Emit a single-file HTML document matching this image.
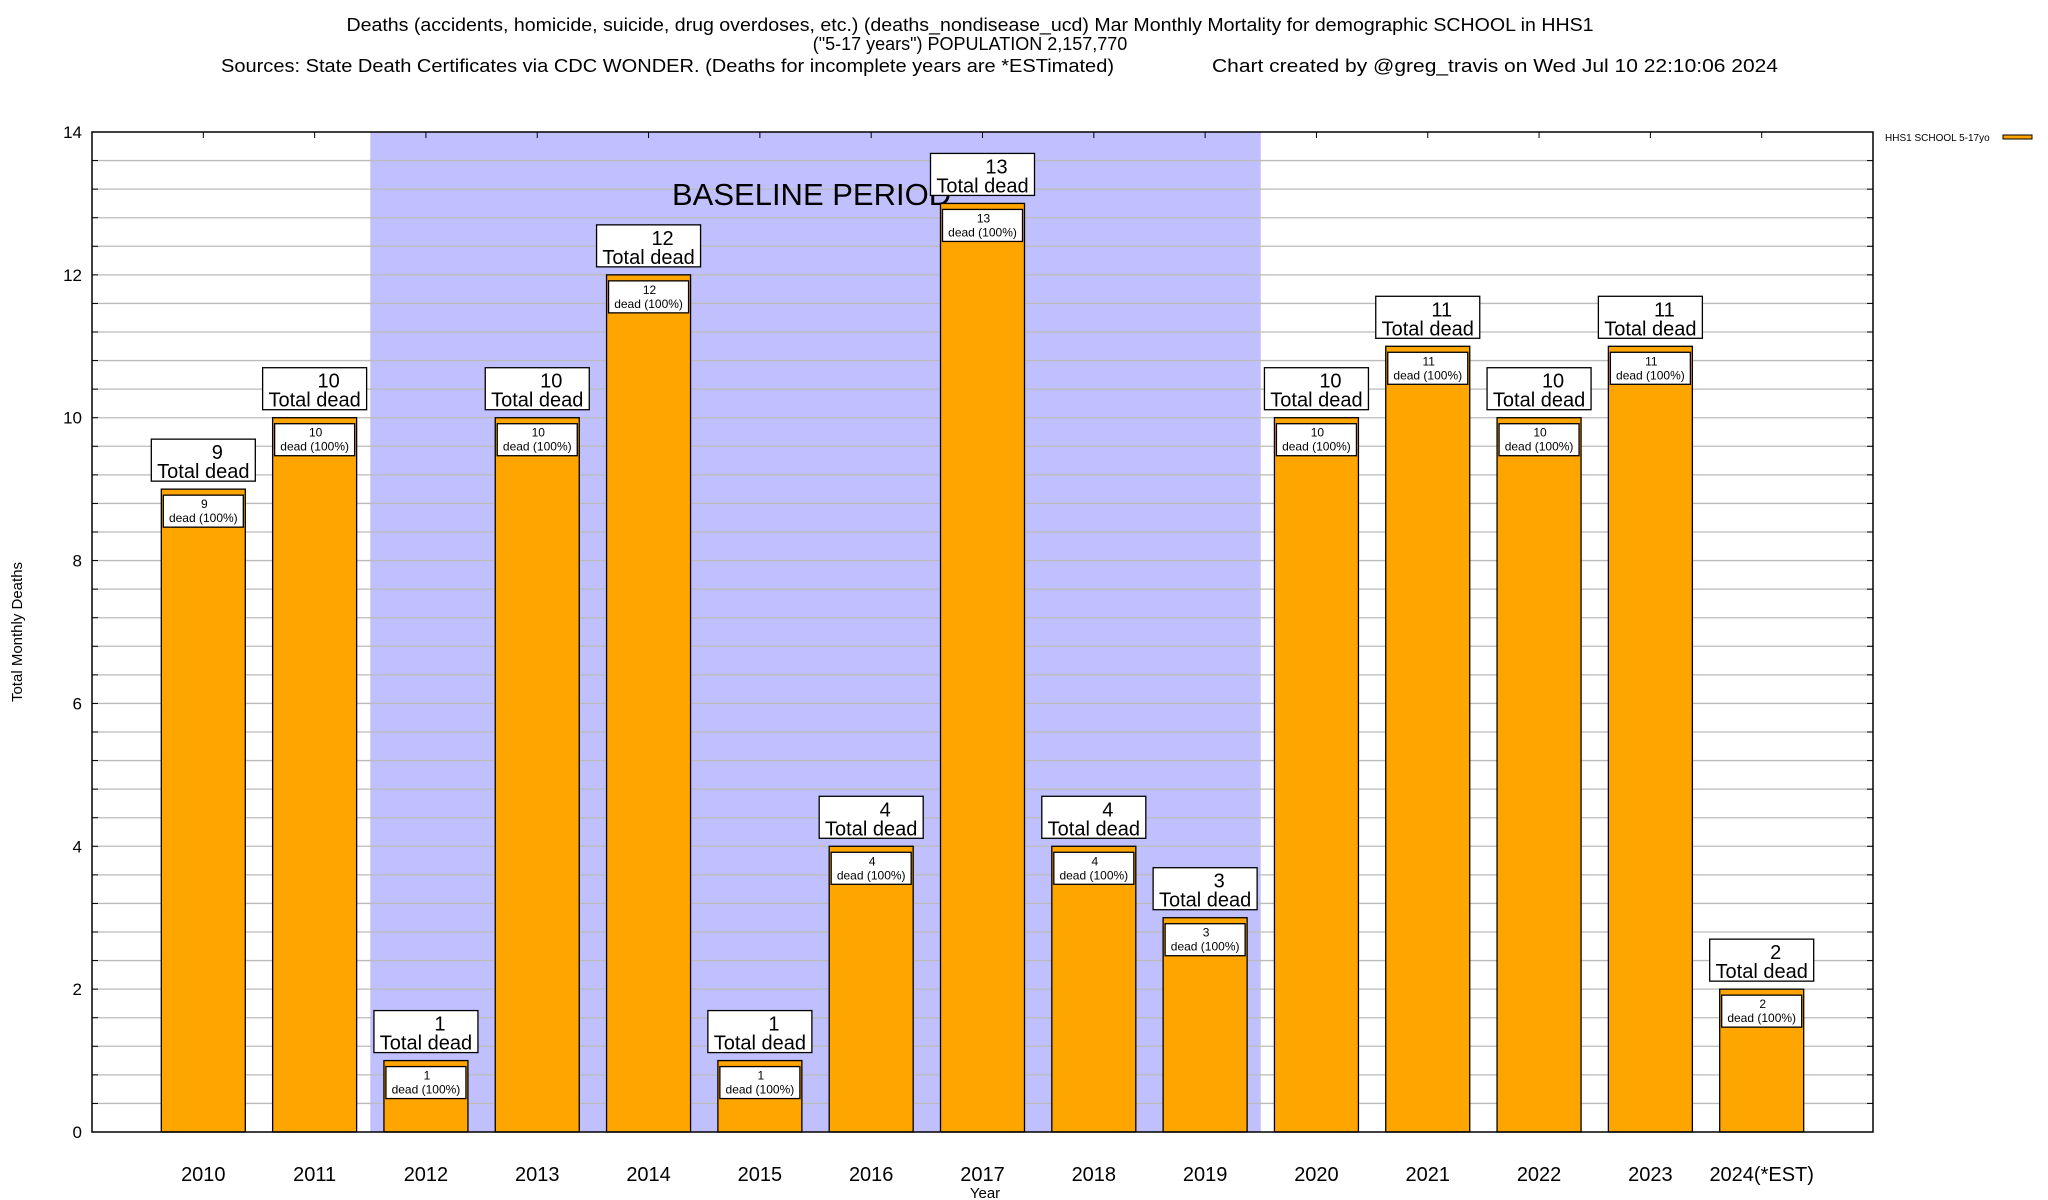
<!DOCTYPE html>
<html><head><meta charset="utf-8">
<style>
html,body{margin:0;padding:0;background:#fff;}
svg{display:block;font-family:"Liberation Sans",Arial,sans-serif;}
</style></head>
<body>
<svg id="chart" width="2048" height="1200" viewBox="0 0 2048 1200" xmlns="http://www.w3.org/2000/svg">
<text x="970" y="31" font-size="18" text-anchor="middle" textLength="1247" lengthAdjust="spacingAndGlyphs">Deaths (accidents, homicide, suicide, drug overdoses, etc.) (deaths_nondisease_ucd) Mar Monthly Mortality for demographic SCHOOL in HHS1</text>
<text x="970" y="50" font-size="18" text-anchor="middle">("5-17 years") POPULATION 2,157,770</text>
<text x="221" y="72" font-size="18" textLength="893" lengthAdjust="spacingAndGlyphs">Sources: State Death Certificates via CDC WONDER. (Deaths for incomplete years are *ESTimated)</text>
<text x="1212" y="72" font-size="18" textLength="566" lengthAdjust="spacingAndGlyphs">Chart created by @greg_travis on Wed Jul 10 22:10:06 2024</text>
<g id="plot"></g>
</svg>
<script>
const categories = ["2010","2011","2012","2013","2014","2015","2016","2017","2018","2019","2020","2021","2022","2023","2024(*EST)"];
const deaths = [9,10,1,10,12,1,4,13,4,3,10,11,10,11,2];
const yTicks = [0,2,4,6,8,10,12,14];
const baselineStart = 2, baselineEnd = 9;

const L=92, R=1873, T=132, B=1132;
const yMax=14;
const xs = i => L + (i+1)*(R-L)/(categories.length+1);
const ys = v => B - v*(B-T)/yMax;
const step = (R-L)/(categories.length+1);
const NS="http://www.w3.org/2000/svg";
const g=document.getElementById('plot');
function mk(tag,attrs,parent){const e=document.createElementNS(NS,tag);for(const k in attrs)e.setAttribute(k,attrs[k]);(parent||g).appendChild(e);return e;}

const sh=mk('rect',{x:xs(baselineStart)-step/2,y:T,width:xs(baselineEnd)-xs(baselineStart)+step,height:B-T,fill:'#c0c0ff'});



for(let k=1;k<35;k++){
  const v=k*0.4; const y=ys(v);
  const l=mk('line',{x1:L,x2:R,y1:y,y2:y,stroke:'#bbbbbb','stroke-width':1.3});
  
  
  mk('line',{x1:L,x2:L+6,y1:y,y2:y,stroke:'#000'});
  mk('line',{x1:R-6,x2:R,y1:y,y2:y,stroke:'#000'});
}
const bl=mk('text',{x:672,y:205,'font-size':31,'text-anchor':'start'});
bl.textContent='BASELINE PERIOD';



yTicks.forEach(v=>{
  const t=mk('text',{x:82,y:ys(v)+6,'font-size':17,'text-anchor':'end'});
  t.textContent=v;
  
  
});

const bw=84;
categories.forEach((c,i)=>{
  const cx=xs(i), v=deaths[i], top=ys(v);
  const bar=mk('rect',{x:cx-bw/2,y:top,width:bw,height:B-top,fill:'#ffa500',stroke:'#000','stroke-width':1.3});
  
  
  const ib=mk('rect',{x:cx-40,y:top+6,width:80,height:32,fill:'#fff',stroke:'#000','stroke-width':1.3});
  
  
  const t1=mk('text',{x:cx+1,y:top+19,'font-size':12,'text-anchor':'middle'});t1.textContent=v;
  
  
  const t2=mk('text',{x:cx,y:top+33,'font-size':12,'text-anchor':'middle'});t2.textContent='dead (100%)';
  
  
  const tb=mk('rect',{x:cx-52,y:top-50,width:104,height:42,fill:'#fff',stroke:'#000','stroke-width':1.3});
  
  
  const t3=mk('text',{x:cx+14,y:top-30,'font-size':20,'text-anchor':'middle'});t3.textContent=v;
  
  
  const t4=mk('text',{x:cx,y:top-11,'font-size':20,'text-anchor':'middle'});t4.textContent='Total dead';
  
  
  mk('line',{x1:cx,x2:cx,y1:T,y2:T+6,stroke:'#000'});
  const xl=mk('text',{x:cx,y:1181,'font-size':20,'text-anchor':'middle'});xl.textContent=c;
  
  
});

const fr=mk('rect',{x:L,y:T,width:R-L,height:B-T,fill:'none',stroke:'#000','stroke-width':1.5});



const xt=mk('text',{x:985,y:1198,'font-size':15,'text-anchor':'middle'});xt.textContent='Year';


const yt=mk('text',{x:0,y:0,'font-size':15,'text-anchor':'middle',transform:'translate(22,632) rotate(-90)'});yt.textContent='Total Monthly Deaths';



const lt=mk('text',{x:1885,y:141,'font-size':10});lt.textContent='HHS1 SCHOOL 5-17yo';


const ls=mk('rect',{x:2003,y:135,width:29,height:4,fill:'#ffa500',stroke:'#000','stroke-width':1});


</script>
</body></html>
